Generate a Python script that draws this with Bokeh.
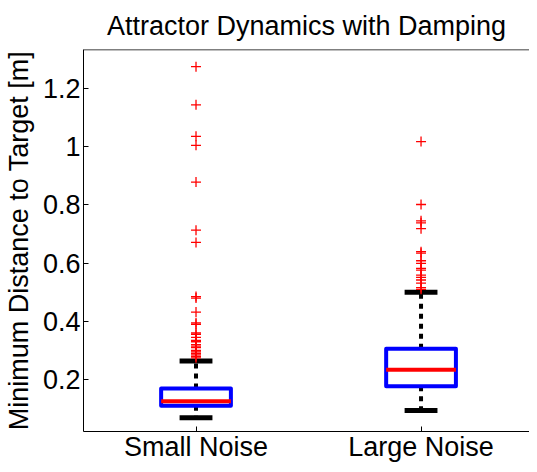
from bokeh.plotting import figure
from bokeh.models import FixedTicker, CustomJSTickFormatter, Range1d, Span
from bokeh.embed import file_html
from bokeh.resources import INLINE

# ---- data ----
groups = ["Small Noise", "Large Noise"]
positions = [1, 2]
q1 = [0.110, 0.177]
median = [0.126, 0.234]
q3 = [0.170, 0.306]
whisker_low = [0.069, 0.094]
whisker_high = [0.264, 0.500]
outliers_small = [1.274, 1.143, 1.035, 1.004, 0.878, 0.713, 0.671, 0.485, 0.480,
                  0.432, 0.395, 0.390, 0.360, 0.355, 0.345, 0.335, 0.330, 0.320,
                  0.315, 0.310, 0.300, 0.295, 0.290, 0.285, 0.280, 0.275]
outliers_large = [1.017, 0.801, 0.745, 0.738, 0.718, 0.639, 0.634, 0.608, 0.599,
                  0.582, 0.576, 0.559, 0.551, 0.542, 0.531, 0.516, 0.510]
y_ticks = [0.2, 0.4, 0.6, 0.8, 1.0, 1.2]
y_min, y_max = 0.022, 1.333
x_min, x_max = 0.5, 2.482

FONT = "Liberation Sans"
FS = "27px"
BOX_HW = 0.155
CAP_HW = 0.073

p = figure(width=529, height=464, output_backend="svg", toolbar_location=None,
           x_range=Range1d(x_min, x_max), y_range=Range1d(y_min, y_max),
           min_border_left=0, min_border_right=0, min_border_top=0, min_border_bottom=0,
           title="Attractor Dynamics with Damping")
p.title.text_font = FONT
p.title.text_font_size = FS
p.title.text_font_style = "normal"
p.title.align = "center"
p.title.text_color = "black"
p.title.standoff = 17
p.title.offset = 0
p.xgrid.visible = False
p.ygrid.visible = False
p.outline_line_color = None
p.background_fill_color = "white"
p.border_fill_color = "white"

# y axis
ya = p.yaxis[0]
ya.ticker = FixedTicker(ticks=y_ticks)
ya.formatter = CustomJSTickFormatter(code="return String(Math.round(tick*10)/10);")
ya.axis_label = "Minimum Distance to Target [m]"
ya.axis_label_text_font = FONT
ya.axis_label_text_font_size = FS
ya.axis_label_text_font_style = "normal"
ya.axis_label_text_color = "black"
ya.axis_label_standoff = 6
ya.major_label_text_font = FONT
ya.major_label_text_font_size = FS
ya.major_label_text_color = "black"
ya.major_label_standoff = 3
ya.major_tick_in = 5
ya.major_tick_out = 0
ya.minor_tick_line_color = None
ya.axis_line_color = "black"
ya.major_tick_line_color = "black"

# x axis
xa = p.xaxis[0]
xa.ticker = FixedTicker(ticks=positions)
xa.major_label_overrides = {pos: name for pos, name in zip(positions, groups)}
xa.major_label_text_font = FONT
xa.major_label_text_font_size = FS
xa.major_label_text_color = "black"
xa.major_label_text_line_height = 0.9
xa.major_label_standoff = 0
xa.axis_label_standoff = 0
xa.major_tick_in = 5
xa.major_tick_out = 0
xa.minor_tick_line_color = None
xa.axis_line_color = "black"
xa.major_tick_line_color = "black"

# top frame line
p.add_layout(Span(location=y_max, dimension="width", line_color="black", line_width=1.5))

# whiskers (dashed)
p.segment(x0=positions, y0=q3, x1=positions, y1=whisker_high,
          line_color="black", line_width=4, line_dash="5 5")
p.segment(x0=positions, y0=q1, x1=positions, y1=whisker_low,
          line_color="black", line_width=4, line_dash="5 5")
# caps
p.segment(x0=[x - CAP_HW for x in positions], y0=whisker_high,
          x1=[x + CAP_HW for x in positions], y1=whisker_high,
          line_color="black", line_width=5)
p.segment(x0=[x - CAP_HW for x in positions], y0=whisker_low,
          x1=[x + CAP_HW for x in positions], y1=whisker_low,
          line_color="black", line_width=5)
# boxes
p.quad(left=[x - BOX_HW for x in positions], right=[x + BOX_HW for x in positions],
       bottom=q1, top=q3, fill_color="white", fill_alpha=1.0,
       line_color="#0000ff", line_width=4, line_join="round")
# medians
p.segment(x0=[x - BOX_HW for x in positions], y0=median,
          x1=[x + BOX_HW for x in positions], y1=median,
          line_color="#ff0000", line_width=4)
# outliers
p.scatter(x=[positions[0]] * len(outliers_small), y=outliers_small, marker="cross",
          size=10, line_color="#ff0000", line_width=1.3)
p.scatter(x=[positions[1]] * len(outliers_large), y=outliers_large, marker="cross",
          size=10, line_color="#ff0000", line_width=1.3)

open("out.html", "w").write(file_html(p, INLINE))
